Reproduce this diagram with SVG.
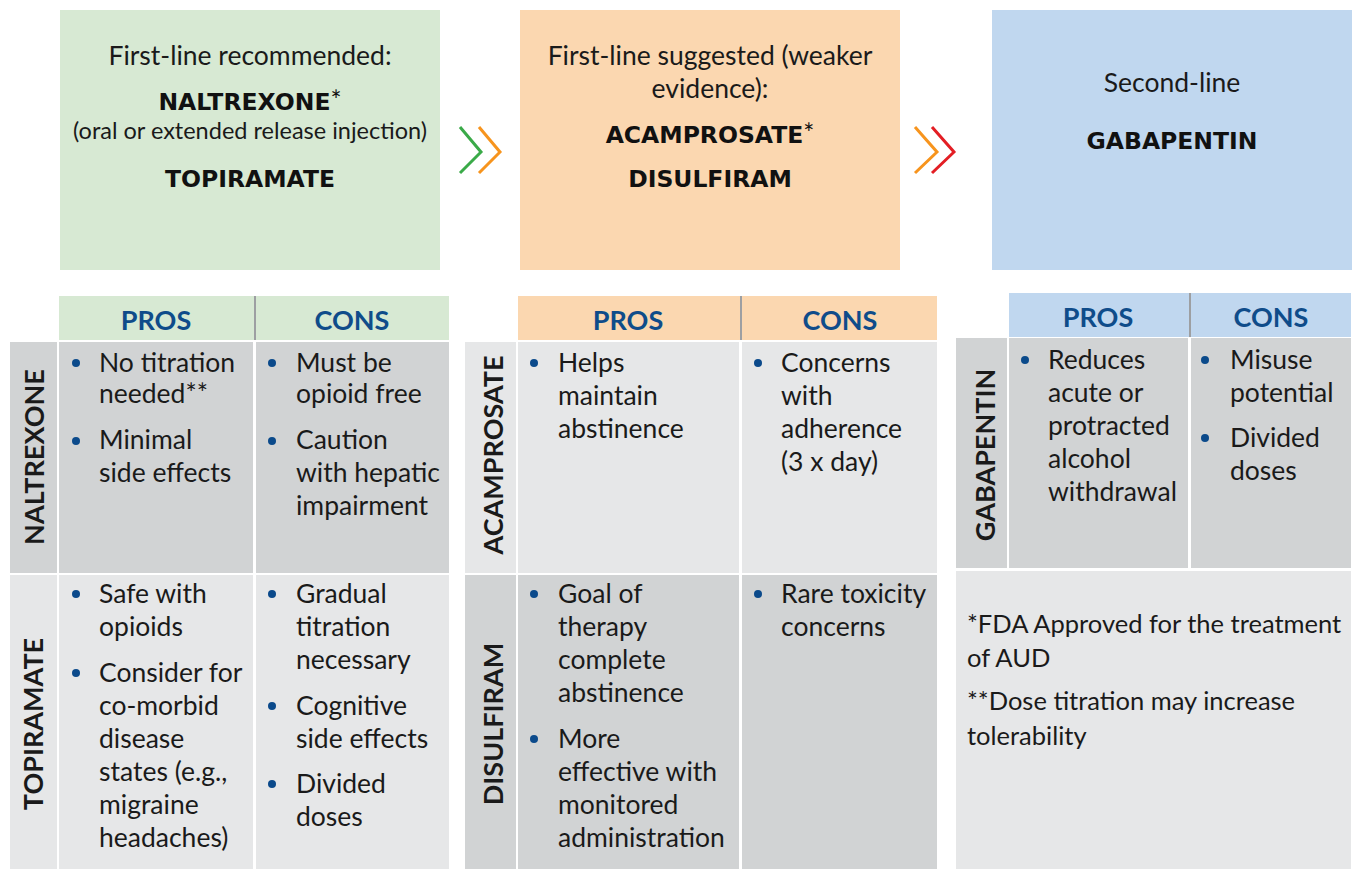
<svg xmlns="http://www.w3.org/2000/svg" width="1356" height="869" viewBox="0 0 1356 869">
<style>
.reg{font-family:Lato,"Liberation Sans",sans-serif;font-size:26.5px;fill:#1a1a1a}
.foot{font-family:Lato,"Liberation Sans",sans-serif;font-size:25.5px;fill:#1a1a1a}
.intro{font-family:Lato,"Liberation Sans",sans-serif;font-size:26.5px;fill:#1a1a1a;text-anchor:middle}
.small{font-family:Lato,"Liberation Sans",sans-serif;font-size:23.5px;fill:#1a1a1a;text-anchor:middle}
.drug{font-family:"DejaVu Sans",Verdana,sans-serif;font-weight:bold;font-size:23.5px;fill:#111;text-anchor:middle}
.ast{font-family:Lato,sans-serif;font-weight:normal;font-size:26px}
.hdr{font-family:Lato,"Liberation Sans",sans-serif;font-weight:bold;font-size:27px;fill:#0f4c8a;text-anchor:middle}
.lbl{font-family:Lato,"Liberation Sans",sans-serif;font-weight:bold;font-size:27px;fill:#1a1a1a;text-anchor:middle}
.dark{fill:#d1d3d4}
.light{fill:#e6e7e8}
.green{fill:#d7e9d3}
.orange{fill:#fbd7b0}
.blue{fill:#c0d7ef}
.div{stroke:#9d9fa2;stroke-width:2}
.dot{fill:#0b4a8b}
.chev{fill:none;stroke-width:3;stroke-linecap:butt;stroke-linejoin:miter}
</style>

<!-- Top boxes -->
<g id="box-first-line-recommended">
<rect class="green" x="60" y="10" width="380" height="260"/>
<text class="intro" x="250" y="65">First-line recommended:</text>
<text class="drug" x="250" y="110">NALTREXONE<tspan class="ast">*</tspan></text>
<text class="small" x="250" y="139">(oral or extended release injection)</text>
<text class="drug" x="250" y="187">TOPIRAMATE</text>
</g>
<g id="box-first-line-suggested">
<rect class="orange" x="520" y="10" width="380" height="260"/>
<text class="intro" x="710" y="65">First-line suggested (weaker</text>
<text class="intro" x="710" y="98">evidence):</text>
<text class="drug" x="710" y="143">ACAMPROSATE<tspan class="ast">*</tspan></text>
<text class="drug" x="710" y="187">DISULFIRAM</text>
</g>
<g id="box-second-line">
<rect class="blue" x="992" y="10" width="360" height="260"/>
<text class="intro" x="1172" y="92">Second-line</text>
<text class="drug" x="1172" y="149">GABAPENTIN</text>
</g>

<!-- Connectors (chevrons) -->
<g id="connectors">
<polyline class="chev" stroke="#3aaa48" points="460,127 481,152 460,173"/>
<polyline class="chev" stroke="#f7941d" points="479,127 500,152 479,173"/>
<polyline class="chev" stroke="#f7941d" points="915,127 937,152 915,173"/>
<polyline class="chev" stroke="#e31e24" points="932,127 954,152 932,173"/>
</g>

<!-- Table 1 -->
<g id="table-first-line-recommended">
<rect class="green" x="59" y="296" width="390" height="44"/>
<line class="div" x1="255" y1="296" x2="255" y2="340"/>
<text class="hdr" x="156" y="330">PROS</text>
<text class="hdr" x="352" y="330">CONS</text>
</g>
<g id="row-naltrexone">
<rect class="dark" x="10" y="342" width="47" height="231"/>
<rect class="dark" x="59" y="342" width="194" height="231"/>
<rect class="dark" x="256" y="342" width="193" height="231"/>
<text class="lbl" transform="translate(44,457) rotate(-90)">NALTREXONE</text>
<circle class="dot" cx="76" cy="363" r="4"/>
<text class="reg" x="99" y="372">No titration</text>
<text class="reg" x="99" y="403">needed**</text>
<circle class="dot" cx="76" cy="441" r="4"/>
<text class="reg" x="99" y="449">Minimal</text>
<text class="reg" x="99" y="482">side effects</text>
<circle class="dot" cx="272" cy="363" r="4"/>
<text class="reg" x="296" y="372">Must be</text>
<text class="reg" x="296" y="403">opioid free</text>
<circle class="dot" cx="272" cy="441" r="4"/>
<text class="reg" x="296" y="449">Caution</text>
<text class="reg" x="296" y="482">with hepatic</text>
<text class="reg" x="296" y="515">impairment</text>
</g>
<g id="row-topiramate">
<rect class="light" x="10" y="575" width="47" height="294"/>
<rect class="light" x="59" y="575" width="194" height="294"/>
<rect class="light" x="256" y="575" width="193" height="294"/>
<text class="lbl" transform="translate(43,724) rotate(-90)">TOPIRAMATE</text>
<circle class="dot" cx="76" cy="594" r="4"/>
<text class="reg" x="99" y="603">Safe with</text>
<text class="reg" x="99" y="636">opioids</text>
<circle class="dot" cx="76" cy="673" r="4"/>
<text class="reg" x="99" y="682">Consider for</text>
<text class="reg" x="99" y="715">co-morbid</text>
<text class="reg" x="99" y="748">disease</text>
<text class="reg" x="99" y="781">states (e.g.,</text>
<text class="reg" x="99" y="814">migraine</text>
<text class="reg" x="99" y="847">headaches)</text>
<circle class="dot" cx="272" cy="594" r="4"/>
<text class="reg" x="296" y="603">Gradual</text>
<text class="reg" x="296" y="636">titration</text>
<text class="reg" x="296" y="669">necessary</text>
<circle class="dot" cx="272" cy="706" r="4"/>
<text class="reg" x="296" y="715">Cognitive</text>
<text class="reg" x="296" y="748">side effects</text>
<circle class="dot" cx="272" cy="784" r="4"/>
<text class="reg" x="296" y="793">Divided</text>
<text class="reg" x="296" y="826">doses</text>
</g>

<!-- Table 2 -->
<g id="table-first-line-suggested">
<rect class="orange" x="518" y="296" width="419" height="44"/>
<line class="div" x1="741" y1="296" x2="741" y2="340"/>
<text class="hdr" x="628" y="330">PROS</text>
<text class="hdr" x="840" y="330">CONS</text>
</g>
<g id="row-acamprosate">
<rect class="light" x="465" y="342" width="51" height="231"/>
<rect class="light" x="518" y="342" width="221" height="231"/>
<rect class="light" x="742" y="342" width="195" height="231"/>
<text class="lbl" transform="translate(503,455) rotate(-90)">ACAMPROSATE</text>
<circle class="dot" cx="534" cy="363" r="4"/>
<text class="reg" x="558" y="372">Helps</text>
<text class="reg" x="558" y="405">maintain</text>
<text class="reg" x="558" y="438">abstinence</text>
<circle class="dot" cx="758" cy="363" r="4"/>
<text class="reg" x="781" y="372">Concerns</text>
<text class="reg" x="781" y="405">with</text>
<text class="reg" x="781" y="438">adherence</text>
<text class="reg" x="781" y="471">(3 x day)</text>
</g>
<g id="row-disulfiram">
<rect class="dark" x="465" y="575" width="51" height="294"/>
<rect class="dark" x="518" y="575" width="221" height="294"/>
<rect class="dark" x="742" y="575" width="195" height="294"/>
<text class="lbl" transform="translate(503,724) rotate(-90)">DISULFIRAM</text>
<circle class="dot" cx="534" cy="594" r="4"/>
<text class="reg" x="558" y="603">Goal of</text>
<text class="reg" x="558" y="636">therapy</text>
<text class="reg" x="558" y="669">complete</text>
<text class="reg" x="558" y="702">abstinence</text>
<circle class="dot" cx="534" cy="739" r="4"/>
<text class="reg" x="558" y="748">More</text>
<text class="reg" x="558" y="781">effective with</text>
<text class="reg" x="558" y="814">monitored</text>
<text class="reg" x="558" y="847">administration</text>
<circle class="dot" cx="758" cy="594" r="4"/>
<text class="reg" x="781" y="603">Rare toxicity</text>
<text class="reg" x="781" y="636">concerns</text>
</g>

<!-- Table 3 -->
<g id="table-second-line">
<rect class="blue" x="1009" y="293" width="342" height="44"/>
<line class="div" x1="1190" y1="293" x2="1190" y2="337"/>
<text class="hdr" x="1098" y="327">PROS</text>
<text class="hdr" x="1271" y="327">CONS</text>
</g>
<g id="row-gabapentin">
<rect class="dark" x="956" y="338" width="51" height="230"/>
<rect class="dark" x="1009" y="338" width="179" height="230"/>
<rect class="dark" x="1191" y="338" width="160" height="230"/>
<text class="lbl" transform="translate(995,455) rotate(-90)">GABAPENTIN</text>
<circle class="dot" cx="1025" cy="360" r="4"/>
<text class="reg" x="1048" y="369">Reduces</text>
<text class="reg" x="1048" y="402">acute or</text>
<text class="reg" x="1048" y="435">protracted</text>
<text class="reg" x="1048" y="468">alcohol</text>
<text class="reg" x="1048" y="501">withdrawal</text>
<circle class="dot" cx="1205" cy="360" r="4"/>
<text class="reg" x="1230" y="369">Misuse</text>
<text class="reg" x="1230" y="402">potential</text>
<circle class="dot" cx="1205" cy="438" r="4"/>
<text class="reg" x="1230" y="447">Divided</text>
<text class="reg" x="1230" y="480">doses</text>
</g>
<g id="footnotes">
<rect class="light" x="956" y="571" width="395" height="298"/>
<text class="foot" x="967" y="633">*FDA Approved for the treatment</text>
<text class="foot" x="967" y="667">of AUD</text>
<text class="foot" x="967" y="710">**Dose titration may increase</text>
<text class="foot" x="967" y="745">tolerability</text>
</g>
</svg>
